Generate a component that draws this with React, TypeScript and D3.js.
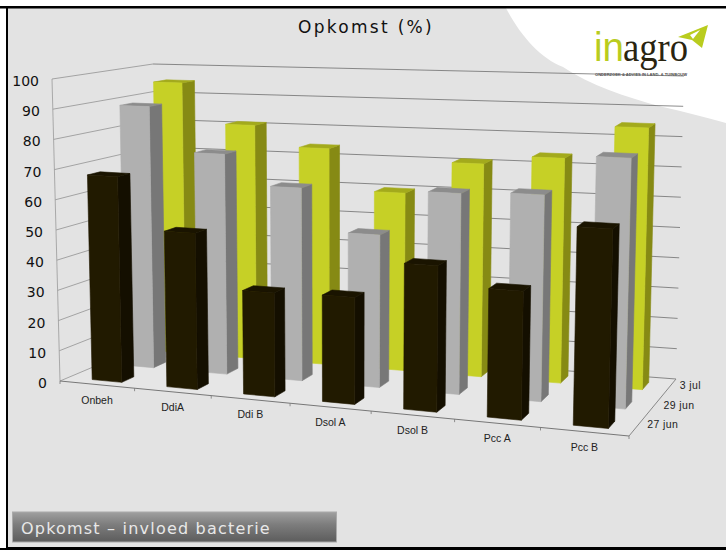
import * as d3 from 'd3'

const categories = ['Onbeh', 'DdiA', 'Ddi B', 'Dsol A', 'Dsol B', 'Pcc A', 'Pcc B']
const dates = ['27 jun', '29 jun', '3 jul']
const yTicks = [0, 10, 20, 30, 40, 50, 60, 70, 80, 90, 100]

const jun27 = [68, 51, 33.5, 34, 46, 40, 61]
const jun29 = [89, 74, 64, 50, 65, 66, 79]
const jul3 = [95, 81, 74, 60, 71, 74, 85]
const seriesValues = [jun27, jun29, jul3]
const seriesFaces = [
  { front: '#211a00', side: '#140f00', top: '#1a1400' },
  { front: '#b0b0b0', side: '#777777', top: '#8c8c8c' },
  { front: '#c6d026', side: '#868a14', top: '#a3aa1c' },
]

type Pt = [number, number]

// box corners on screen
const FL0: Pt = [60, 381]
const FR0: Pt = [629, 436]
const BL0: Pt = [157, 340]
const BR0: Pt = [676, 379]
const FL1: Pt = [52, 79]
const FR1: Pt = [637, 105]
const BL1: Pt = [153, 64]
const BR1: Pt = [684, 76]

const hScale = d3.scaleLinear().domain([0, 100]).range([0, 1])
const depthStart = d3.scalePoint<number>().domain([0, 1, 2]).range([0.09, 0.78])
const barDepth = 0.13
const barFrom = 0.32
const barTo = 0.72
const persp = 1.105

const warp = (u: number) => u / (u + persp * (1 - u))
const mix = (a: Pt, b: Pt, t: number): Pt => [a[0] + (b[0] - a[0]) * t, a[1] + (b[1] - a[1]) * t]

function project(u: number, v: number, value: number): Pt {
  const g = warp(u)
  const h = hScale(value)
  const bottom = mix(mix(FL0, FR0, g), mix(BL0, BR0, g), v)
  const top = mix(mix(FL1, FR1, g), mix(BL1, BR1, g), v)
  return mix(bottom, top, h)
}

const poly = d3.line<Pt>().curve(d3.curveLinearClosed)
const seg = (a: Pt, b: Pt) => d3.line<Pt>()([a, b]) ?? ''
const uScale = d3.scaleLinear().domain([0, categories.length]).range([0, 1])

function Bar({ cat, s, value }: { cat: number; s: number; value: number }) {
  const u0 = uScale(cat + barFrom)
  const u1 = uScale(cat + barTo)
  const v0 = depthStart(s)!
  const v1 = v0 + barDepth
  const c = seriesFaces[s]
  return (
    <g strokeWidth={0.6} strokeLinejoin="round">
      <path
        d={poly([project(u1, v0, 0), project(u1, v1, 0), project(u1, v1, value), project(u1, v0, value)]) ?? ''}
        fill={c.side}
        stroke={c.side}
      />
      <path
        d={poly([project(u0, v0, value), project(u1, v0, value), project(u1, v1, value), project(u0, v1, value)]) ?? ''}
        fill={c.top}
        stroke={c.top}
      />
      <path
        d={poly([project(u0, v0, 0), project(u1, v0, 0), project(u1, v0, value), project(u0, v0, value)]) ?? ''}
        fill={c.front}
        stroke={c.front}
      />
    </g>
  )
}

export default function App() {
  const sans = '"DejaVu Sans", sans-serif'
  const arial = '"Liberation Sans", sans-serif'
  return (
    <svg
      width={726}
      height={550}
      style={{ position: 'absolute', left: 0, top: 0, background: '#fff' }}
    >
      <defs>
        <linearGradient id="banner" x1="0" x2="0" y1="0" y2="1">
          <stop offset="0%" stopColor="#a0a0a0" />
          <stop offset="40%" stopColor="#7e7e7e" />
          <stop offset="100%" stopColor="#5c5c5c" />
        </linearGradient>
      </defs>

      {/* slide */}
      <rect x={7} y={7} width={730} height={541} fill="#e3e3e3" stroke="#000" strokeWidth={2} />
      <path
        d="M506,8 C520,35 540,58 563,67 C590,85 625,97 663,107 C685,112 705,117 726,123 L726,8 Z"
        fill="#fff"
      />
      <rect x={0} y={548} width={726} height={2} fill="#000" />
      <rect x={0} y={6} width={726} height={2.5} fill="#000" />

      {/* logo */}
      <text x={594} y={61} fontFamily={arial} fontSize={41} textLength={30} lengthAdjust="spacingAndGlyphs" fill="#b9cc1e">
        in
      </text>
      <text x={623} y={61} fontFamily={'"Liberation Serif", serif'} fontSize={41} textLength={65} lengthAdjust="spacingAndGlyphs" fill="#2a2410">
        agro
      </text>
      <path d="M678,37 L708,25 L702,48 L692,40 Z" fill="#b9cc1e" />
      <path d="M690,35 L700,30 L693,39 Z" fill="#fff" />
      <text x={595} y={76} fontFamily={arial} fontSize={3.8} fontWeight="bold" textLength={92} lengthAdjust="spacingAndGlyphs" fill="#444">
        ONDERZOEK &amp; ADVIES IN LAND- &amp; TUINBOUW
      </text>

      <text x={366} y={33} textAnchor="middle" fontFamily={sans} fontSize={17} letterSpacing={2.3} fill="#111">
        Opkomst (%)
      </text>

      {/* floor */}
      <path
        d={poly([project(0, 0, 0), project(1, 0, 0), project(1, 1, 0), project(0, 1, 0)]) ?? ''}
        fill="#e6e6e6"
      />

      {/* walls */}
      {yTicks.map(t => (
        <g key={t} fill="none" stroke="#6f6f6f" strokeWidth={0.8}>
          <path d={seg(project(0, 0, t), project(0, 1, t))} opacity={0.7} />
          <path d={seg(project(0, 1, t), project(1, 1, t))} />
        </g>
      ))}
      <path d={seg(project(0, 0, 0), project(0, 0, 100))} stroke="#999" strokeWidth={0.8} />

      {/* axes on the floor */}
      <path d={seg(project(0, 0, 0), project(1, 0, 0))} stroke="#777" strokeWidth={1} />
      <path d={seg(project(1, 0, 0), project(1, 1, 0))} stroke="#888" strokeWidth={1} />
      {d3.range(categories.length + 1).map(i => {
        const p = project(uScale(i), 0, 0)
        return <path key={i} d={seg(p, [p[0], p[1] + 3])} stroke="#777" strokeWidth={0.8} />
      })}

      {/* bars, back to front */}
      {[2, 1, 0].map(s =>
        d3.range(categories.length).reverse().map(c => (
          <Bar key={`${s}-${c}`} cat={c} s={s} value={seriesValues[s][c]} />
        )),
      )}

      {yTicks.map(t => {
        const p = project(0, 0, t)
        return (
          <text key={t} x={p[0] - 13} y={p[1] + 7} textAnchor="end" fontFamily={sans} fontSize={14} fill="#111">
            {t}
          </text>
        )
      })}
      {categories.map((name, i) => {
        const p = project(uScale(i + 0.5), 0, 0)
        return (
          <text key={name} x={p[0]} y={p[1] + 19} textAnchor="middle" fontFamily={arial} fontSize={10.5} fill="#222">
            {name}
          </text>
        )
      })}
      {dates.map((name, i) => {
        const p = project(1, depthStart(i)! + barDepth / 2, 0)
        return (
          <text key={name} x={p[0] + 11} y={p[1] + 1} fontFamily={arial} fontSize={10.5} letterSpacing={0.4} fill="#222">
            {name}
          </text>
        )
      })}

      {/* caption */}
      <rect x={12.5} y={512} width={324} height={30} fill="url(#banner)" stroke="#aaa" strokeWidth={1} />
      <text x={21} y={534} fontFamily={sans} fontSize={16} letterSpacing={1.2} fill="#e8e8e8">
        Opkomst – invloed bacterie
      </text>
    </svg>
  )
}
